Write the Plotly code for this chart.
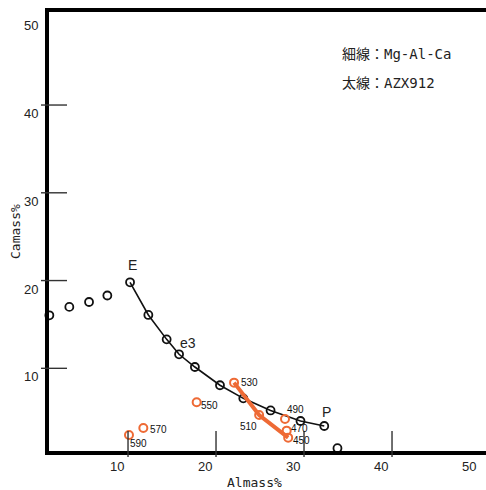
import plotly.graph_objects as go

# Mg-Al-Ca system: connected series from E through e3 to P
line_al = [10.23, 12.31, 14.39, 15.80, 17.60, 20.45, 23.10, 26.20, 29.60, 32.30]
line_ca = [19.80, 16.08, 13.30, 11.60, 10.15, 8.07, 6.58, 5.20, 4.00, 3.43]

# Mg-Al-Ca: isolated compositions
pts_al = [1.06, 3.33, 5.57, 7.65, 33.80]
pts_ca = [16.04, 17.00, 17.56, 18.30, 0.90]

# AZX912 compositions, labelled by temperature
azx_temp = ["530", "510", "490", "470", "450", "550", "570", "590"]
azx_al = [22.05, 24.90, 27.84, 28.03, 28.20, 17.80, 11.74, 10.11]
azx_ca = [8.37, 4.68, 4.23, 2.90, 2.10, 6.13, 3.20, 2.40]
# temperatures joined by the thick line
azx_path = ["530", "510", "450"]

x_ticks = [10, 20, 30, 40]
x_ticklabels = ["10", "20", "30", "40", "50"]
y_ticks = [10, 20, 30, 40]
y_ticklabels = ["10", "20", "30", "40", "50"]

BLACK = "#111111"
ORANGE = "#ee6a35"
W, H = 486, 490
ML, MR, MT, MB = 49, 0, 12, 39
PW, PH = W - ML - MR, H - MT - MB
X_RANGE = [1.02, 50.68]
Y_RANGE = [0.58, 50.6]

fig = go.Figure()

fig.add_trace(go.Scatter(
    x=line_al, y=line_ca, mode="lines+markers",
    line=dict(color=BLACK, width=1.6),
    marker=dict(symbol="circle-open", size=8, color=BLACK, line=dict(width=1.8)),
    cliponaxis=False, showlegend=False,
))
fig.add_trace(go.Scatter(
    x=pts_al, y=pts_ca, mode="markers",
    marker=dict(symbol="circle-open", size=8, color=BLACK, line=dict(width=1.8)),
    cliponaxis=False, showlegend=False,
))

path_idx = [azx_temp.index(t) for t in azx_path]
fig.add_trace(go.Scatter(
    x=[azx_al[i] for i in path_idx], y=[azx_ca[i] for i in path_idx],
    mode="lines", line=dict(color=ORANGE, width=4),
    cliponaxis=False, showlegend=False,
))
fig.add_trace(go.Scatter(
    x=azx_al, y=azx_ca, mode="markers",
    marker=dict(symbol="circle-open", size=8, color=ORANGE, line=dict(width=2)),
    cliponaxis=False, showlegend=False,
))

# crossing tick marks
shapes = []
for v in x_ticks:
    shapes.append(dict(type="line", xref="x", yref="paper", x0=v, x1=v,
                       y0=-6 / PH, y1=20 / PH, line=dict(color="#333", width=1.4)))
for v in y_ticks:
    shapes.append(dict(type="line", xref="paper", yref="y", y0=v, y1=v,
                       x0=-8 / PW, x1=18 / PW, line=dict(color="#333", width=1.4)))

tick_font = dict(family="Liberation Sans Narrow, Liberation Sans, Arial", size=13, color="#222")
mono = "DejaVu Sans Mono, Noto Sans CJK JP"
ann = []
for i, lab in enumerate(x_ticklabels):
    v = 10 * (i + 1)
    ann.append(dict(text=lab, xref="x", yref="paper", x=v, y=0, xanchor="center",
                    yanchor="top", xshift=-11, yshift=-6, showarrow=False, font=tick_font))
for i, lab in enumerate(y_ticklabels):
    v = 10 * (i + 1)
    ann.append(dict(text=lab, xref="paper", yref="y", x=0, y=v, xanchor="right",
                    yanchor="middle", xshift=-9, yshift=-8.5, showarrow=False, font=tick_font))

# axis titles
ann.append(dict(text="Almass%", xref="paper", yref="paper",
                x=(254 - ML) / PW, y=-(483 - MT - PH) / PH, xanchor="center", yanchor="middle",
                showarrow=False, font=dict(family=mono, size=13, color="#222")))
ann.append(dict(text="Camass%", xref="paper", yref="paper", textangle=-90,
                x=(16 - ML) / PW, y=(MT + PH - 232) / PH, xanchor="center", yanchor="middle",
                showarrow=False, font=dict(family=mono, size=13, color="#222")))

# legend notes
for txt, py in [("細線：Mg-Al-Ca", 54), ("太線：AZX912", 83)]:
    ann.append(dict(text=txt, xref="paper", yref="paper", x=(340 - ML) / PW,
                    y=(MT + PH - py) / PH, xanchor="left", yanchor="middle",
                    showarrow=False, font=dict(family=mono, size=14, color="#222")))

# point labels on the Mg-Al-Ca line
big = dict(family="Liberation Sans, Arial", size=14, color="#222")
for lab, idx, dx, dy in [("E", 0, 2, 17), ("e3", 3, 9, 11), ("P", 9, 2, 14)]:
    ann.append(dict(text=lab, x=line_al[idx], y=line_ca[idx], xref="x", yref="y",
                    xshift=dx, yshift=dy, showarrow=False, font=big))

# temperature labels on AZX912 points
small = dict(family="Liberation Sans, Arial", size=10, color="#111")
offsets = {"530": (15, 0), "510": (-11, -11), "490": (10, 9), "470": (13, 2),
           "450": (13, -3), "550": (13, -3), "570": (15, -1), "590": (10, -8)}
for t, a, c in zip(azx_temp, azx_al, azx_ca):
    dx, dy = offsets[t]
    ann.append(dict(text=t, x=a, y=c, xref="x", yref="y", xshift=dx, yshift=dy,
                    showarrow=False, font=small))

fig.update_layout(
    width=W, height=H,
    margin=dict(l=ML, r=MR, t=MT, b=MB),
    paper_bgcolor="white", plot_bgcolor="white",
    shapes=shapes, annotations=ann,
    xaxis=dict(range=X_RANGE, showgrid=False, zeroline=False, showticklabels=False,
               ticks="", showline=True, linecolor="black", linewidth=4, mirror=True),
    yaxis=dict(range=Y_RANGE, showgrid=False, zeroline=False, showticklabels=False,
               ticks="", showline=True, linecolor="black", linewidth=4),
)

fig.write_html("out.html")
